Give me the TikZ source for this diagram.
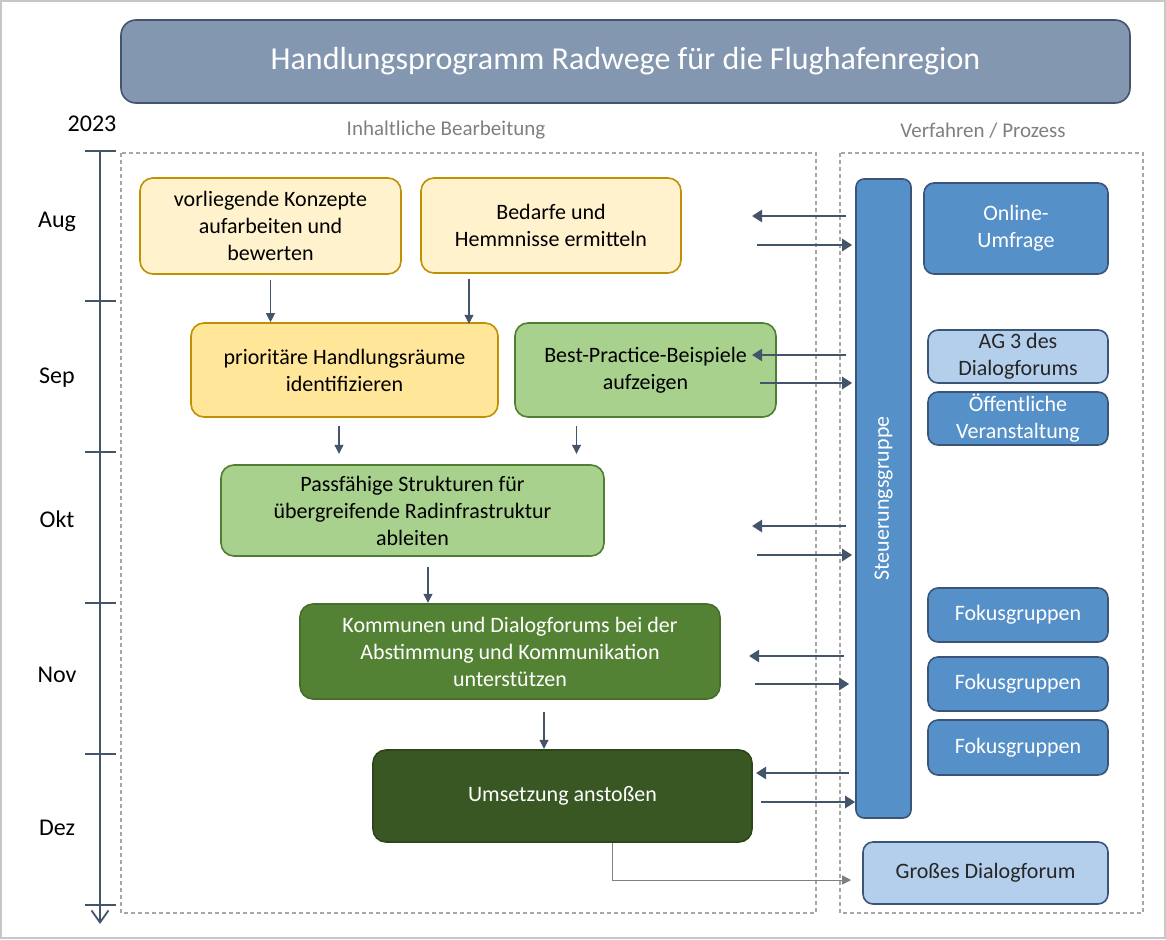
\documentclass[tikz,border=0pt]{standalone}
\usepackage{fontspec}
\setmainfont{Carlito}
\usetikzlibrary{arrows.meta}
\definecolor{slate}{HTML}{44546A}
\definecolor{titlefill}{HTML}{8497B0}
\definecolor{ylight}{HTML}{FFF2CC}
\definecolor{ymid}{HTML}{FFE699}
\definecolor{ygold}{HTML}{BF9000}
\definecolor{glight}{HTML}{A9D18E}
\definecolor{gmid}{HTML}{548235}
\definecolor{gdark}{HTML}{385723}
\definecolor{gline}{HTML}{507E32}
\definecolor{bfill}{HTML}{5590C8}
\definecolor{bline}{HTML}{3A5578}
\definecolor{blight}{HTML}{B4CFEB}
\definecolor{dashgray}{HTML}{A6A6A6}
\definecolor{labgray}{HTML}{7F7F7F}
\newcommand{\bodysize}{\fontsize{22}{27}\selectfont}
\begin{document}
\begin{tikzpicture}[x=1pt,y=-1pt,
  box/.style={draw,rounded corners=13pt,line width=1.6pt,align=center,font=\bodysize,inner sep=2pt},
  ybox/.style={box,fill=ylight,draw=ygold},
  yybox/.style={box,fill=ymid,draw=ygold},
  gbox/.style={box,fill=glight,draw=gline},
  gmbox/.style={box,fill=gmid,draw=gmid!85!black,text=white},
  gdbox/.style={box,fill=gdark,draw=gdark!80!black,text=white},
  bbox/.style={box,rounded corners=10pt,fill=bfill,draw=bline,text=white},
  lbbox/.style={box,rounded corners=10pt,fill=blight,draw=bline,text=black!85},
  month/.style={font=\fontsize{24}{28}\selectfont},
  head/.style={font=\fontsize{21}{25}\selectfont,text=labgray},
  dashbox/.style={draw=dashgray,line width=1.2pt,dash pattern=on 4pt off 3pt},
  flow/.style={draw=slate,line width=1.1pt,-{Triangle[length=9pt,width=9pt]}},
  big/.style={draw=slate,line width=2.8pt,-{Triangle[length=10pt,width=12pt]}}]
\useasboundingbox (0,0) rectangle (1166,939);
\draw[black!22,line width=2pt] (1,1) rectangle (1165,938);
% title
\node[box,rounded corners=15pt,fill=titlefill,draw=slate,text=white,font=\fontsize{32}{38}\selectfont,minimum width=1009,minimum height=83] (title) at (625.5,61.5) {Handlungsprogramm Radwege für die Flughafenregion};
% time line
\node[month] (year) at (92,124) {2023};
\coordinate (tltop) at (100,152); \coordinate (tlend) at (100,924);
\draw[slate,line width=1.8pt,-{Straight Barb[length=12pt,width=17pt]}] (tltop) -- (tlend);
\draw[slate,line width=1.2pt] (85,151) -- (116,151); \draw[slate,line width=1.2pt] (85,301) -- (116,301);
\draw[slate,line width=1.2pt] (85,452) -- (116,452); \draw[slate,line width=1.2pt] (85,603) -- (116,603);
\draw[slate,line width=1.2pt] (85,754) -- (116,754); \draw[slate,line width=1.2pt] (85,905) -- (116,905);
\node[month] (aug) at (57,222) {Aug}; \node[month] (sep) at (57,378) {Sep};
\node[month] (okt) at (57,519) {Okt}; \node[month] (nov) at (57,675) {Nov};
\node[month] (dez) at (57,828) {Dez};
% columns
\node[head] (inhalt) at (446,130) {Inhaltliche Bearbeitung};
\node[head] (verf) at (983,131) {Verfahren / Prozess};
\draw[dashbox] (121,153) rectangle (816,913);
\draw[dashbox] (840,153) rectangle (1143,913);
% content boxes
\node[ybox,minimum width=261,minimum height=96] (konz) at (270.5,226) {vorliegende Konzepte\\aufarbeiten und\\bewerten};
\node[ybox,minimum width=260,minimum height=95] (bed) at (551,225.5) {Bedarfe und\\Hemmnisse ermitteln};
\node[yybox,minimum width=307,minimum height=94] (prio) at (344.5,370) {prioritäre Handlungsräume\\identifizieren};
\node[gbox,minimum width=261,minimum height=94] (best) at (645.5,370) {Best-Practice-Beispiele\\aufzeigen};
\node[gbox,minimum width=383,minimum height=91] (pass) at (412.5,510.5) {Passfähige Strukturen für\\übergreifende Radinfrastruktur\\ableiten};
\node[gmbox,minimum width=420,minimum height=95] (komm) at (510,651.5) {Kommunen und Dialogforums bei der\\Abstimmung und Kommunikation\\unterstützen};
\node[gdbox,minimum width=379,minimum height=92] (umset) at (562.5,796) {Umsetzung anstoßen};
% process boxes
\node[bbox,rounded corners=8pt,minimum width=55,minimum height=639] (steu) at (883.5,498.5) {\rotatebox{90}{Steuerungsgruppe}};
\node[bbox,minimum width=184,minimum height=91] (online) at (1016,228.5) {Online-\\Umfrage};
\node[lbbox,minimum width=180,minimum height=53] (ag) at (1018,356.5) {AG 3 des\\Dialogforums};
\node[bbox,minimum width=180,minimum height=53] (oeff) at (1018,418.5) {Öffentliche\\Veranstaltung};
\node[bbox,minimum width=180,minimum height=54] (fok1) at (1018,615) {Fokusgruppen};
\node[bbox,minimum width=180,minimum height=54] (fok2) at (1018,684) {Fokusgruppen};
\node[bbox,minimum width=180,minimum height=55] (fok3) at (1018,747.5) {Fokusgruppen};
\node[lbbox,minimum width=245,minimum height=62] (gross) at (985.5,873) {Großes Dialogforum};
% flow between steps
\draw[flow] ([yshift=-5pt]konz.south) -- (konz.south |- prio.north);
\draw[flow] ([xshift=-82pt,yshift=-5pt]bed.south) -- ++(0,45);
\draw[flow] ([xshift=-5.5pt,yshift=-8pt]prio.south) -- ++(0,28);
\draw[flow] ([xshift=-69pt,yshift=-8pt]best.south) -- ++(0,28);
\draw[flow] ([xshift=15.5pt,yshift=-10pt]pass.south) -- ++(0,36);
\draw[flow] ([xshift=34pt,yshift=-12pt]komm.south) -- ++(0,37);
\draw[flow,draw=black!50,line width=0.9pt] ([xshift=50pt]umset.south) |- ([xshift=-11pt,yshift=-7pt]gross.west);
% exchange with steering group
\coordinate (in1) at (752,216); \coordinate (out1) at (757,245);
\coordinate (in2) at (752,355); \coordinate (out2) at (760,383);
\coordinate (in3) at (752,526); \coordinate (out3) at (757,555);
\coordinate (in4) at (749,656); \coordinate (out4) at (755,684);
\coordinate (in5) at (756,773); \coordinate (out5) at (761,802);
\draw[big] ([xshift=-9pt]steu.west |- in1) -- (in1); \draw[big] (out1) -- ([xshift=-3pt]steu.west |- out1);
\draw[big] ([xshift=-9pt]steu.west |- in2) -- (in2); \draw[big] (out2) -- ([xshift=-3pt]steu.west |- out2);
\draw[big] ([xshift=-9pt]steu.west |- in3) -- (in3); \draw[big] (out3) -- ([xshift=-3pt]steu.west |- out3);
\draw[big] ([xshift=-11pt]steu.west |- in4) -- (in4); \draw[big] (out4) -- ([xshift=-6pt]steu.west |- out4);
\draw[big] ([xshift=-6pt]steu.west |- in5) -- (in5); \draw[big] (out5) -- ([xshift=0pt]steu.west |- out5);
\end{tikzpicture}
\end{document}
